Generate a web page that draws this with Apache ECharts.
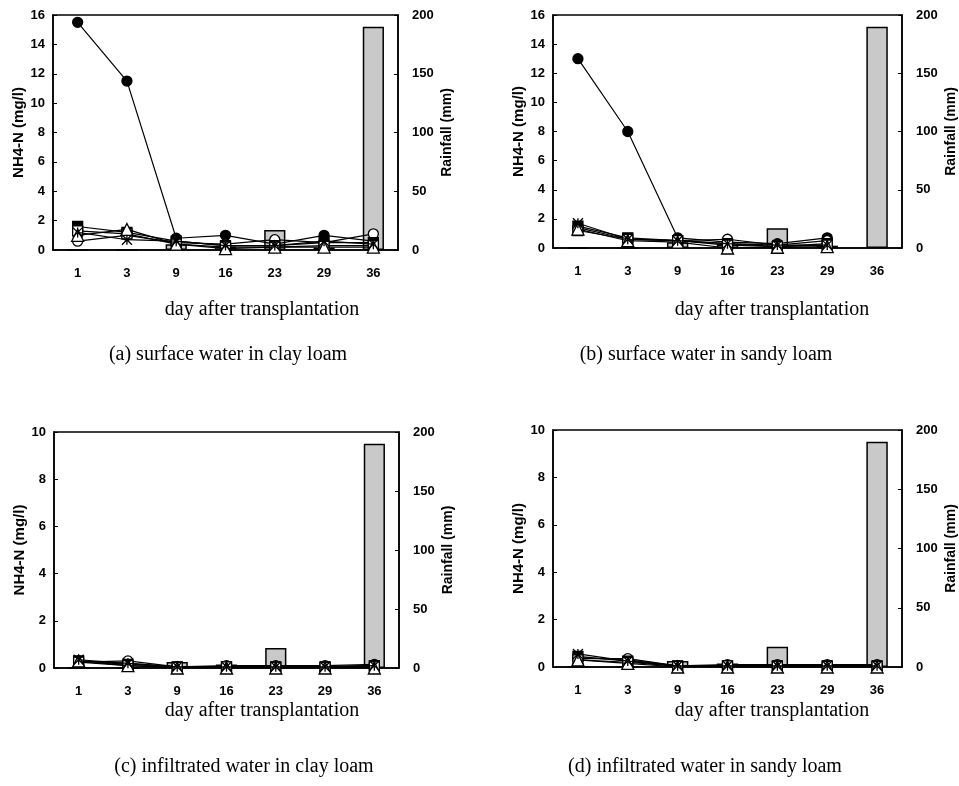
<!DOCTYPE html>
<html>
<head>
<meta charset="utf-8">
<script src="https://cdn.jsdelivr.net/npm/echarts@6/dist/echarts.min.js"></script>
<style>
  html, body { margin: 0; padding: 0; background: #fff; }
  #main { width: 959px; height: 786px; }
</style>
</head>
<body>
<div id="main"></div>
<script>
// days after transplantation
const days = ['1', '3', '9', '16', '23', '29', '36'];
const rainfall = [0, 0, 5, 3, 17, 2, 190];

// (a) surface water, clay loam
const aFilledCircle = [15.5, 11.5, 0.8, 1.0, 0.4, 1.0, 0.6];
const aOpenCircle   = [0.6, 1.0, 0.5, 0.4, 0.7, 0.5, 1.1];
const aFilledSquare = [1.6, 1.2, 0.6, 0.3, 0.3, 0.5, 0.5];
const aOpenSquare   = [1.3, 1.1, 0.4, 0.2, 0.2, 0.3, 0.3];
const aTriangle     = [1.0, 1.4, 0.4, 0.1, 0.2, 0.2, 0.2];
const aCross        = [1.2, 0.7, 0.6, 0.3, 0.3, 0.6, 0.4];

// (b) surface water, sandy loam
const bFilledCircle = [13.0, 8.0, 0.7, 0.4, 0.3, 0.7, null];
const bOpenCircle   = [1.4, 0.6, 0.5, 0.6, 0.2, 0.5, null];
const bFilledSquare = [1.5, 0.7, 0.5, 0.3, 0.1, 0.3, null];
const bOpenSquare   = [1.2, 0.6, 0.5, 0.2, 0.1, 0.2, null];
const bTriangle     = [1.3, 0.5, 0.4, 0.0, 0.05, 0.1, null];
const bCross        = [1.7, 0.6, 0.5, 0.3, 0.2, 0.2, null];

// (c) infiltrated water, clay loam
const cFilledCircle = [0.3, 0.2, 0.05, 0.05, 0.05, 0.05, 0.1];
const cOpenCircle   = [0.25, 0.3, 0.05, 0.1, 0.1, 0.1, 0.15];
const cFilledSquare = [0.3, 0.15, 0.05, 0.05, 0.05, 0.05, 0.1];
const cOpenSquare   = [0.25, 0.1, 0.03, 0.05, 0.03, 0.03, 0.05];
const cTriangle     = [0.3, 0.1, 0.0, 0.0, 0.0, 0.0, 0.0];
const cCross        = [0.35, 0.2, 0.05, 0.05, 0.05, 0.05, 0.1];

// (d) infiltrated water, sandy loam
const dFilledCircle = [0.4, 0.3, 0.05, 0.05, 0.05, 0.05, 0.05];
const dOpenCircle   = [0.35, 0.35, 0.05, 0.1, 0.1, 0.1, 0.1];
const dFilledSquare = [0.45, 0.25, 0.05, 0.05, 0.05, 0.05, 0.05];
const dOpenSquare   = [0.3, 0.2, 0.03, 0.05, 0.03, 0.03, 0.03];
const dTriangle     = [0.3, 0.15, 0.0, 0.0, 0.0, 0.0, 0.0];
const dCross        = [0.55, 0.25, 0.05, 0.05, 0.05, 0.05, 0.05];

const chart = echarts.init(document.getElementById('main'));

const labelFont = { fontFamily: 'Liberation Sans', fontWeight: 'bold', fontSize: 13, color: '#000' };
const serif = 'Liberation Serif';

// marker styles: [symbol, fill]
const markers = [
  ['circle', '#000'],
  ['circle', '#fff'],
  ['rect', '#000'],
  ['rect', '#fff'],
  ['triangle', '#fff'],
  ['path://M0,0L10,10M10,0L0,10M5,0L5,10', '#fff']
];

const panels = [
  { grid: { left: 53, top: 15, width: 345, height: 235 }, yMax: 16, lines: [aFilledCircle, aOpenCircle, aFilledSquare, aOpenSquare, aTriangle, aCross] },
  { grid: { left: 553, top: 15, width: 351, height: 233 }, yMax: 16, lines: [bFilledCircle, bOpenCircle, bFilledSquare, bOpenSquare, bTriangle, bCross] },
  { grid: { left: 54, top: 432, width: 345, height: 236 }, yMax: 10, lines: [cFilledCircle, cOpenCircle, cFilledSquare, cOpenSquare, cTriangle, cCross] },
  { grid: { left: 553, top: 430, width: 352, height: 237 }, yMax: 10, lines: [dFilledCircle, dOpenCircle, dFilledSquare, dOpenSquare, dTriangle, dCross] }
];

const grid = [], xAxis = [], yAxis = [], series = [];
panels.forEach((p, i) => {
  grid.push(Object.assign({ show: true, borderColor: '#000', borderWidth: 1.5, backgroundColor: 'transparent' }, p.grid));
  xAxis.push({
    type: 'category', gridIndex: i, data: days,
    axisLine: { lineStyle: { color: '#000', width: 1.5 } },
    axisTick: { inside: true, length: 4, lineStyle: { color: '#000' } },
    axisLabel: Object.assign({ margin: 17 }, labelFont)
  });
  yAxis.push({
    type: 'value', gridIndex: i, min: 0, max: p.yMax, interval: 2,
    name: 'NH4-N (mg/l)', nameLocation: 'middle', nameGap: 26,
    nameTextStyle: Object.assign({}, labelFont, { fontSize: 15 }),
    axisLine: { show: true, lineStyle: { color: '#000', width: 1.5 } },
    axisTick: { show: true, inside: true, length: 4, lineStyle: { color: '#000' } },
    axisLabel: Object.assign({ margin: 8 }, labelFont),
    splitLine: { show: false }
  });
  yAxis.push({
    type: 'value', gridIndex: i, position: 'right', min: 0, max: 200, interval: 50,
    name: 'Rainfall (mm)', nameLocation: 'middle', nameGap: 42, nameRotate: 90,
    nameTextStyle: Object.assign({}, labelFont, { fontSize: 14 }),
    axisLine: { show: true, lineStyle: { color: '#000', width: 1.5 } },
    axisTick: { show: true, inside: true, length: 4, lineStyle: { color: '#000' } },
    axisLabel: Object.assign({ margin: 14 }, labelFont),
    splitLine: { show: false }
  });
  series.push({
    type: 'bar', xAxisIndex: i, yAxisIndex: i * 2 + 1, data: rainfall,
    barWidth: '43%',
    itemStyle: { color: '#c9c9c9', borderColor: '#000', borderWidth: 1.5 },
    z: 1
  });
  p.lines.forEach((vals, k) => {
    series.push({
      type: 'line', xAxisIndex: i, yAxisIndex: i * 2, data: vals,
      symbol: markers[k][0], symbolSize: k === 4 ? 12 : 10,
      showAllSymbol: true,
      lineStyle: { color: '#000', width: 1.2 },
      itemStyle: { color: markers[k][1], borderColor: '#000', borderWidth: 1.3 },
      z: 3 + k
    });
  });
});

const texts = [
  ['day after transplantation', 262, 310],
  ['day after transplantation', 772, 310],
  ['(a) surface water in clay loam', 228, 355],
  ['(b) surface water in sandy loam', 706, 355],
  ['day after transplantation', 262, 711],
  ['day after transplantation', 772, 711],
  ['(c) infiltrated water in clay loam', 244, 767],
  ['(d) infiltrated water in sandy loam', 705, 767]
];

chart.setOption({
  animation: false,
  backgroundColor: '#fff',
  grid: grid,
  xAxis: xAxis,
  yAxis: yAxis,
  series: series,
  graphic: texts.map(t => ({
    type: 'text', x: t[1], y: t[2],
    style: { text: t[0], fontFamily: serif, fontSize: 20, fill: '#000', textAlign: 'center', textVerticalAlign: 'middle' }
  }))
});
</script>
</body>
</html>
